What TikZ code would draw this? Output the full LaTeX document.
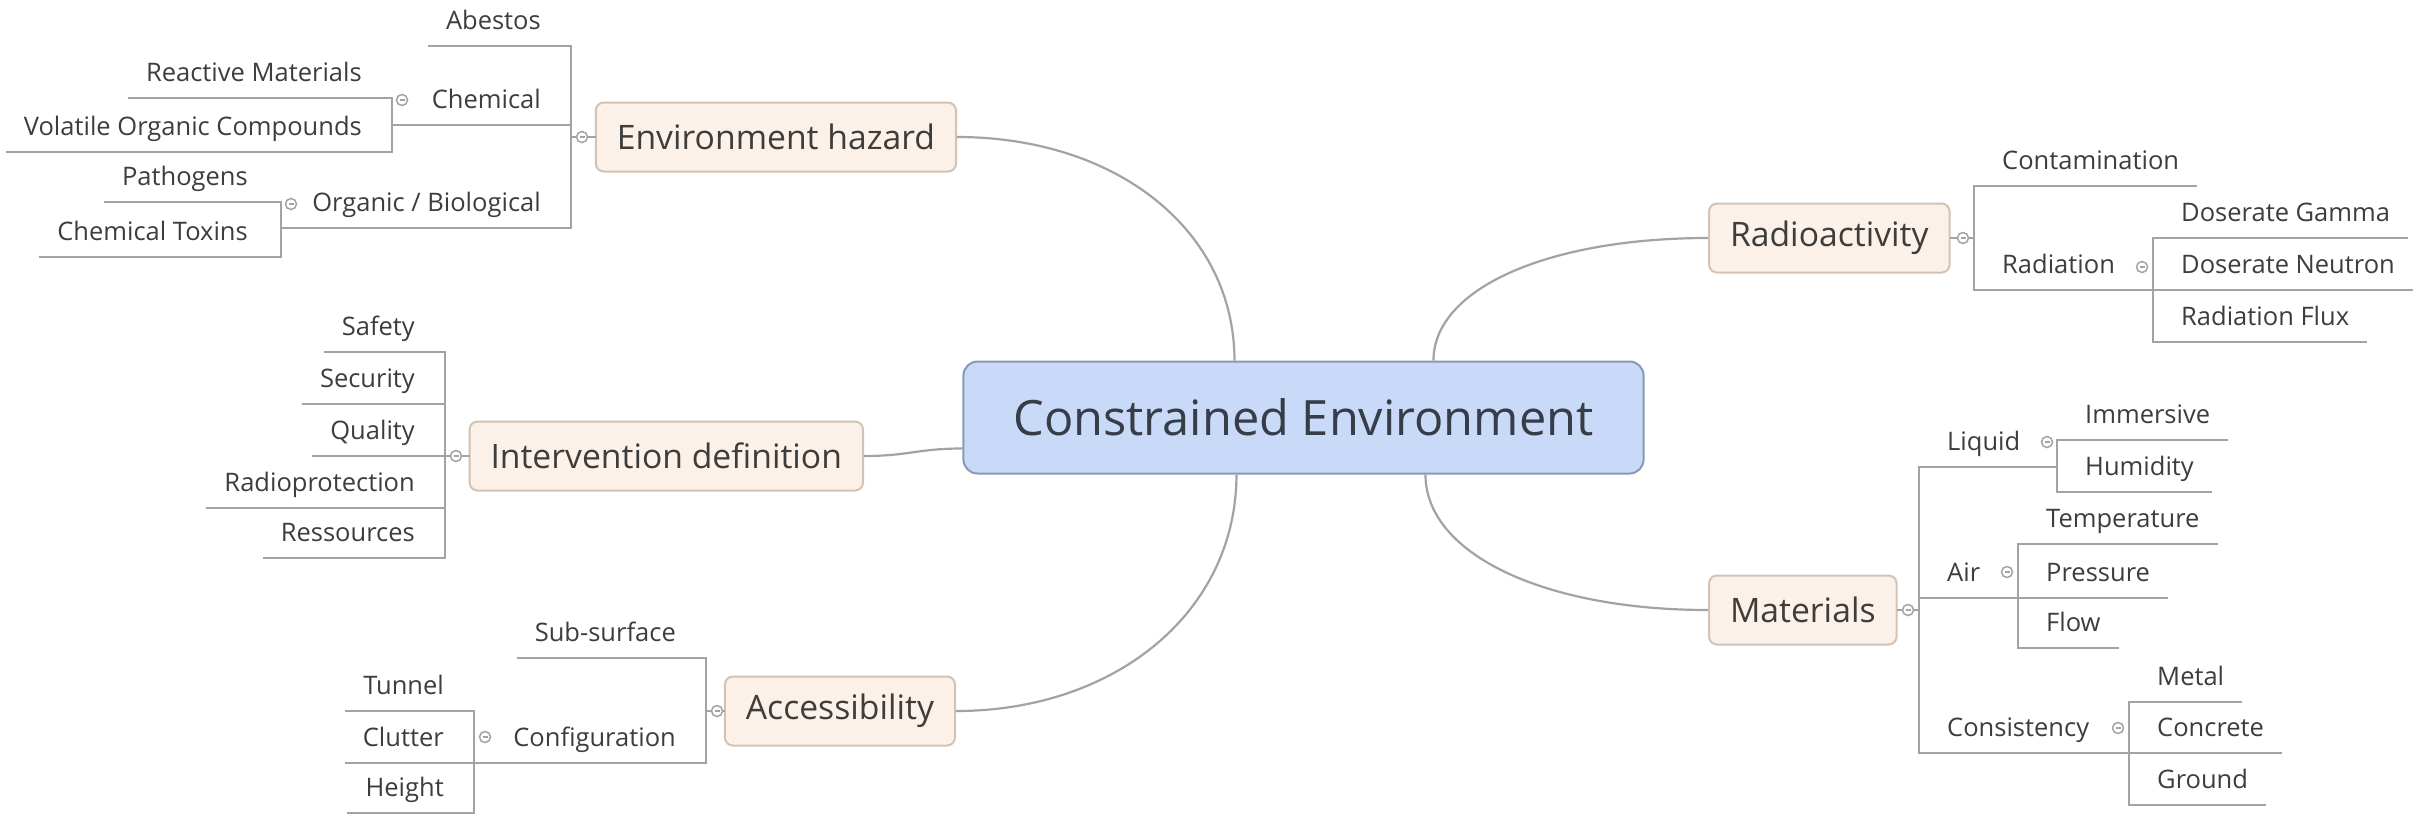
\documentclass[tikz,border=0pt]{standalone}
\usepackage{fontspec}
\setmainfont{Open Sans}
\usetikzlibrary{positioning}
\definecolor{txtgray}{HTML}{3D3D3D}
\definecolor{linegray}{HTML}{A3A3A3}
\definecolor{topicfill}{HTML}{FCF1E8}
\definecolor{topicdraw}{HTML}{D2C3B5}
\definecolor{rootfill}{HTML}{C8DAF7}
\definecolor{rootdraw}{HTML}{8899B5}
\definecolor{roottxt}{HTML}{363C48}
\begin{document}
\begin{tikzpicture}[x=1pt, y=-1pt,
  branch/.style={draw=linegray, line width=2pt, line cap=rect},
  mainlink/.style={draw=linegray, line width=2.2pt},
  leaf/.style={font=\fontsize{25.5}{30}\selectfont, text=txtgray, inner xsep=17pt, inner ysep=11pt, text height=19pt, text depth=5pt},
  topic/.style={rectangle, rounded corners=8pt, draw=topicdraw, fill=topicfill, line width=2pt, font=\fontsize{33.7}{40}\selectfont, text=txtgray, inner xsep=21pt, minimum height=69pt},
  rootbox/.style={rectangle, rounded corners=14pt, draw=rootdraw, fill=rootfill, line width=2pt, font=\fontsize{48.7}{58}\selectfont, text=roottxt, inner xsep=50pt, minimum height=112pt},
  toggle/.style={circle, draw=linegray, fill=white, line width=1.5pt, minimum size=11pt, inner sep=0pt,
    path picture={\draw[linegray, line width=1.2pt] ([xshift=-2.5pt]path picture bounding box.center) -- ([xshift=2.5pt]path picture bounding box.center);}}]
  \path[use as bounding box, fill=white] (0,0) rectangle (2433,815);

  % 中心节点
  \node[rootbox] (root) at (1303.5,417.5) {Constrained Environment};

  % 左侧主题
  \node[topic, anchor=east] (hazard) at (957,137) {Environment hazard};
  \node[topic, anchor=east] (intervention) at (864,456) {Intervention definition};
  \node[topic, anchor=east] (access) at (956,711) {Accessibility};

  % 右侧主题
  \node[topic, anchor=west] (radio) at (1708,238) {Radioactivity};
  \node[topic, anchor=west] (materials) at (1708,610) {Materials};

  % 主题与中心节点之间的曲线
  \draw[mainlink] (hazard.east) .. controls +(160,0) and +(0,-130) .. ([xshift=272pt]root.north west);
  \draw[mainlink] (intervention.east) .. controls +(45,0) and +(-45,0) .. ([yshift=26pt]root.south west);
  \draw[mainlink] (access.east) .. controls +(160,0) and +(0,137) .. ([xshift=274pt]root.south west);
  \draw[mainlink] (radio.west) .. controls +(-160,0) and +(0,-72) .. ([xshift=471pt]root.north west);
  \draw[mainlink] (materials.west) .. controls +(-165,0) and +(0,79) .. ([xshift=463pt]root.south west);

  % Environment hazard 的子节点
  \coordinate (hzb) at (571,137);
  \node[leaf, anchor=south east] (abestos) at (558,46) {Abestos};
  \node[leaf, anchor=south east] (chemical) at (558,125) {Chemical};
  \node[leaf, anchor=south east] (orgbio) at (558,228) {Organic / Biological};
  \coordinate (chb) at (392,125);
  \node[leaf, anchor=south east] (reactive) at (379,98) {Reactive Materials};
  \node[leaf, anchor=south east] (vocs) at (379,152) {Volatile Organic Compounds};
  \coordinate (obb) at (281,229);
  \node[leaf, anchor=south east] (pathogens) at (265,202) {Pathogens};
  \node[leaf, anchor=south east] (toxins) at (265,257) {Chemical Toxins};

  \draw[branch] (hzb) -- (hazard.west);
  \draw[branch] (abestos.south -| hzb) -- (orgbio.south -| hzb);
  \draw[branch] (abestos.south west) -- (abestos.south -| hzb)
    (chemical.south -| chb) -- (chemical.south -| hzb)
    (orgbio.south -| obb) -- (orgbio.south -| hzb);
  \draw[branch] (reactive.south -| chb) -- (vocs.south -| chb);
  \draw[branch] (reactive.south west) -- (reactive.south -| chb)
    (vocs.south west) -- (vocs.south -| chb);
  \draw[branch] (pathogens.south -| obb) -- (toxins.south -| obb);
  \draw[branch] (pathogens.south west) -- (pathogens.south -| obb)
    (toxins.south west) -- (toxins.south -| obb);

  % Intervention definition 的子节点
  \coordinate (inb) at (445,456);
  \node[leaf, anchor=south east] (safety) at (432,352) {Safety};
  \node[leaf, anchor=south east] (security) at (432,404) {Security};
  \node[leaf, anchor=south east] (quality) at (432,456) {Quality};
  \node[leaf, anchor=south east] (radioprot) at (432,508) {Radioprotection};
  \node[leaf, anchor=south east] (ressources) at (432,558) {Ressources};

  \draw[branch] (inb) -- (intervention.west);
  \draw[branch] (safety.south -| inb) -- (ressources.south -| inb);
  \draw[branch] (safety.south west) -- (safety.south -| inb)
    (security.south west) -- (security.south -| inb)
    (quality.south west) -- (quality.south -| inb)
    (radioprot.south west) -- (radioprot.south -| inb)
    (ressources.south west) -- (ressources.south -| inb);

  % Accessibility 的子节点
  \coordinate (acb) at (706,711);
  \node[leaf, anchor=south east] (subsurface) at (693,658) {Sub-surface};
  \node[leaf, anchor=south east] (config) at (693,763) {Configuration};
  \coordinate (cfb) at (474,763);
  \node[leaf, anchor=south east] (tunnel) at (461,711) {Tunnel};
  \node[leaf, anchor=south east] (clutter) at (461,763) {Clutter};
  \node[leaf, anchor=south east] (height) at (461,813) {Height};

  \draw[branch] (acb) -- (access.west);
  \draw[branch] (subsurface.south -| acb) -- (config.south -| acb);
  \draw[branch] (subsurface.south west) -- (subsurface.south -| acb)
    (config.south -| cfb) -- (config.south -| acb);
  \draw[branch] (tunnel.south -| cfb) -- (height.south -| cfb);
  \draw[branch] (tunnel.south west) -- (tunnel.south -| cfb)
    (clutter.south west) -- (clutter.south -| cfb)
    (height.south west) -- (height.south -| cfb);

  % Radioactivity 的子节点
  \coordinate (rab) at (1974,238);
  \node[leaf, anchor=south west] (contam) at (1985,186) {Contamination};
  \node[leaf, anchor=south west] (radiation) at (1985,290) {Radiation};
  \coordinate (rdb) at (2153,290);
  \node[leaf, anchor=south west] (gamma) at (2164,238) {Doserate Gamma};
  \node[leaf, anchor=south west] (neutron) at (2164,290) {Doserate Neutron};
  \node[leaf, anchor=south west] (flux) at (2164,342) {Radiation Flux};

  \draw[branch] (radio.east) -- (rab);
  \draw[branch] (contam.south -| rab) -- (radiation.south -| rab);
  \draw[branch] (contam.south -| rab) -- (contam.south east)
    (radiation.south -| rab) -- (radiation.south -| rdb);
  \draw[branch] (gamma.south -| rdb) -- (flux.south -| rdb);
  \draw[branch] (gamma.south -| rdb) -- (gamma.south east)
    (neutron.south -| rdb) -- (neutron.south east)
    (flux.south -| rdb) -- (flux.south east);

  % Materials 的子节点
  \coordinate (mab) at (1919,610);
  \node[leaf, anchor=south west] (liquid) at (1930,467) {Liquid};
  \node[leaf, anchor=south west] (air) at (1930,598) {Air};
  \node[leaf, anchor=south west] (consist) at (1930,753) {Consistency};
  \coordinate (lqb) at (2057,466);
  \node[leaf, anchor=south west] (immersive) at (2068,440) {Immersive};
  \node[leaf, anchor=south west] (humidity) at (2068,492) {Humidity};
  \coordinate (aib) at (2018,596);
  \node[leaf, anchor=south west] (temp) at (2029,544) {Temperature};
  \node[leaf, anchor=south west] (pressure) at (2029,598) {Pressure};
  \node[leaf, anchor=south west] (flow) at (2029,648) {Flow};
  \coordinate (csb) at (2129,753);
  \node[leaf, anchor=south west] (metal) at (2140,702) {Metal};
  \node[leaf, anchor=south west] (concrete) at (2140,753) {Concrete};
  \node[leaf, anchor=south west] (ground) at (2140,805) {Ground};

  \draw[branch] (materials.east) -- (mab);
  \draw[branch] (liquid.south -| mab) -- (consist.south -| mab);
  \draw[branch] (liquid.south -| mab) -- (liquid.south -| lqb)
    (air.south -| mab) -- (air.south -| aib)
    (consist.south -| mab) -- (consist.south -| csb);
  \draw[branch] (immersive.south -| lqb) -- (humidity.south -| lqb);
  \draw[branch] (immersive.south -| lqb) -- (immersive.south east)
    (humidity.south -| lqb) -- (humidity.south east);
  \draw[branch] (temp.south -| aib) -- (flow.south -| aib);
  \draw[branch] (temp.south -| aib) -- (temp.south east)
    (pressure.south -| aib) -- (pressure.south east)
    (flow.south -| aib) -- (flow.south east);
  \draw[branch] (metal.south -| csb) -- (ground.south -| csb);
  \draw[branch] (metal.south -| csb) -- (metal.south east)
    (concrete.south -| csb) -- (concrete.south east)
    (ground.south -| csb) -- (ground.south east);

  % 折叠按钮
  \node[toggle] (hztg) at (582,137) {};
  \node[toggle] (chtg) at (402,100) {};
  \node[toggle] (obtg) at (291,204) {};
  \node[toggle] (intg) at (456,456) {};
  \node[toggle] (actg) at (717,711) {};
  \node[toggle] (cftg) at (485,737) {};
  \node[toggle] (ratg) at (1963,238) {};
  \node[toggle] (rdtg) at (2142,267) {};
  \node[toggle] (matg) at (1908,610) {};
  \node[toggle] (lqtg) at (2047,442) {};
  \node[toggle] (aitg) at (2007,572) {};
  \node[toggle] (cstg) at (2118,728) {};
\end{tikzpicture}
\end{document}
